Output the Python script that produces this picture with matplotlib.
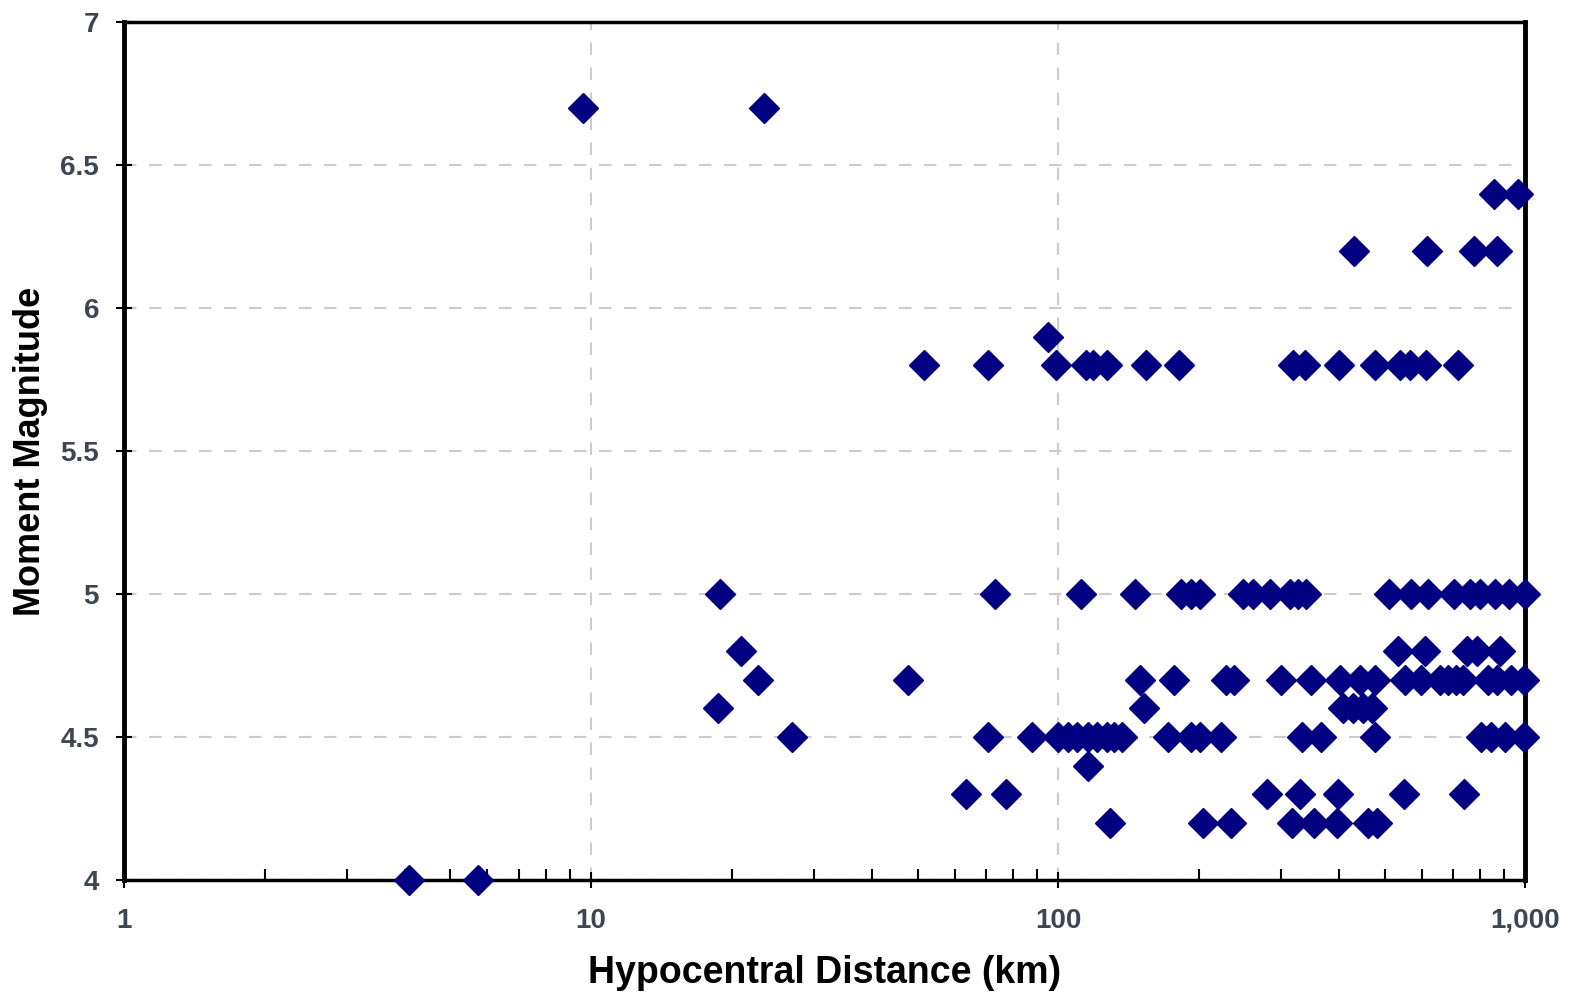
import matplotlib.pyplot as plt
from matplotlib.ticker import FixedLocator, FixedFormatter, LogLocator, NullFormatter

# hypocentral distance (km) grouped by moment magnitude
mags = [6.7, 6.4, 6.2, 5.9, 5.8, 5.0, 4.8, 4.7, 4.6, 4.5, 4.4, 4.3, 4.2, 4.0]
dists = {
    6.7: [9.6, 23.4],
    6.4: [859, 966],
    6.2: [430, 617, 778, 871],
    5.9: [95.2],
    5.8: [51.6, 70.8, 99.0, 114.8, 118.8, 127.3, 154.3, 181.6, 318.6, 338,
          399.7, 477, 540, 567, 614, 719],
    5.0: [18.9, 73.3, 112, 146, 183, 193, 201, 249, 262, 284, 314, 327, 340,
          511, 570, 620, 705, 763, 801, 862, 924, 1000],
    4.8: [20.9, 535, 611, 751, 789, 884],
    4.7: [22.8, 47.7, 150, 177, 229, 238, 300, 348, 402, 443, 477, 553, 599,
          658, 684, 712, 736, 833, 871, 933, 995],
    4.6: [18.7, 153, 408, 428, 449, 471],
    4.5: [26.9, 70.8, 88, 100, 105, 110, 116, 121, 127, 132, 137, 172, 193,
          201, 223, 333, 366, 477, 805, 847, 906, 995],
    4.4: [116],
    4.3: [63.5, 77.4, 280, 330, 398, 551, 740],
    4.2: [129, 204, 235, 317, 353, 396, 461, 482],
    4.0: [4.08, 5.73],
}

xticks = [1, 10, 100, 1000]
xticklabels = ["1", "10", "100", "1,000"]
yticks = [4, 4.5, 5, 5.5, 6, 6.5, 7]
yticklabels = ["4", "4.5", "5", "5.5", "6", "6.5", "7"]

x = []
y = []
for m in mags:
    for d in dists[m]:
        x.append(d)
        y.append(m)

fonts = ["Liberation Sans", "DejaVu Sans"]

fig = plt.figure(figsize=(15.72, 10), dpi=100)
ax = fig.add_axes([0.0789, 0.12, 0.8913, 0.858])

ax.plot(x, y, linestyle="none", marker="D", markersize=15.5,
        color="#000080", markeredgecolor="#000080", clip_on=False, zorder=3)

ax.set_xscale("log")
ax.set_xlim(1, 1000)
ax.set_ylim(4, 7)

ax.xaxis.set_major_locator(FixedLocator(xticks))
ax.xaxis.set_major_formatter(FixedFormatter(xticklabels))
ax.xaxis.set_minor_locator(LogLocator(base=10, subs=range(2, 10)))
ax.xaxis.set_minor_formatter(NullFormatter())
ax.yaxis.set_major_locator(FixedLocator(yticks))
ax.yaxis.set_major_formatter(FixedFormatter(yticklabels))

for lab in ax.get_xticklabels() + ax.get_yticklabels():
    lab.set_family(fonts)
    lab.set_fontsize(20)
    lab.set_fontweight("bold")
    lab.set_color("#3e4652")

ax.tick_params(axis="x", which="major", direction="inout", length=12,
               width=1.5, pad=14)
ax.tick_params(axis="x", which="minor", direction="in", length=8, width=1.5)
ax.tick_params(axis="y", which="major", direction="inout", length=12,
               width=1.5, pad=12)

ax.grid(True, which="major", color="#cccccc", linestyle=(0, (6, 6)),
        linewidth=1.5)
ax.set_axisbelow(True)

for side in ["left", "right"]:
    ax.spines[side].set_linewidth(3.5)
ax.spines["top"].set_linewidth(2.5)
ax.spines["bottom"].set_linewidth(2.5)

ax.set_xlabel("Hypocentral Distance (km)", family=fonts, fontsize=27,
              fontweight="bold", va="center")
ax.set_ylabel("Moment Magnitude", family=fonts, fontsize=26,
              fontweight="bold", va="center")
ax.xaxis.set_label_coords(0.5, -0.1084)
ax.yaxis.set_label_coords(-0.0664, 0.5)

fig.savefig("out.png", dpi=100)
